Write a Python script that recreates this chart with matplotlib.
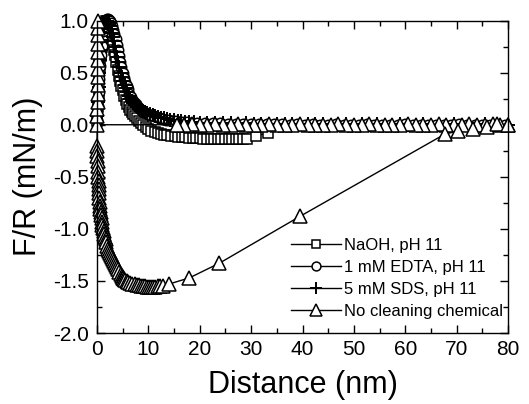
import matplotlib
matplotlib.use("Agg")
import matplotlib.pyplot as plt
from matplotlib.ticker import MultipleLocator, FormatStrFormatter

plt.rcParams['font.family'] = ['Liberation Sans', 'DejaVu Sans']

# ---------------- data ----------------
# NaOH, pH 11 (squares)
x_naoh = [0.0, 0.15, 0.3, 0.45, 0.6, 0.75, 0.9, 1.05, 1.2, 1.35, 1.5, 1.7, 1.9, 2.1, 2.3, 2.5,
          2.7, 2.9, 3.1, 3.3, 3.5, 3.75, 4.0, 4.25, 4.5, 4.75, 5.0, 5.3, 5.6, 5.9, 6.2, 6.5,
          6.8, 7.1, 7.4, 7.8, 8.2, 8.6, 9.0, 9.5, 10.0, 10.6, 11.2, 11.8, 12.4, 13.0, 13.7,
          14.4, 15.1, 15.8, 16.5, 17.2, 17.9, 18.6, 19.3, 20.0, 20.7, 21.4, 22.1, 22.8, 23.5,
          24.2, 24.9, 25.6, 26.3, 27.0, 27.7, 28.4, 29.1, 31.0, 33.2]
y_naoh = [0.04, 0.17, 0.30, 0.43, 0.55, 0.66, 0.75, 0.83, 0.90, 0.95, 0.98, 1.00, 1.00, 0.98,
          0.95, 0.91, 0.87, 0.83, 0.78, 0.72, 0.67, 0.60, 0.53, 0.47, 0.42, 0.37, 0.33, 0.28,
          0.24, 0.20, 0.17, 0.14, 0.12, 0.10, 0.08, 0.06, 0.04, 0.02, 0.00, -0.02, -0.04,
          -0.06, -0.07, -0.08, -0.09, -0.095, -0.10, -0.105, -0.11, -0.115, -0.12, -0.12,
          -0.125, -0.13, -0.13, -0.13, -0.135, -0.135, -0.135, -0.14, -0.14, -0.14, -0.14,
          -0.14, -0.14, -0.14, -0.14, -0.14, -0.135, -0.105, -0.08]

# 1 mM EDTA, pH 11 (circles)
x_edta_near = [0.0, 0.15, 0.3, 0.45, 0.6, 0.75, 0.9, 1.05, 1.2, 1.35, 1.5, 1.65, 1.8, 2.0,
               2.2, 2.4, 2.6, 2.8, 3.0, 3.2, 3.4, 3.6, 3.8, 4.0, 4.25, 4.5, 4.75, 5.0, 5.25,
               5.5, 5.75, 6.0, 6.3, 6.6, 6.9, 7.2, 7.5, 7.8, 8.2, 8.6, 9.0, 9.5, 10.0, 10.5,
               11.0, 11.6, 12.2, 12.8, 13.4, 14.0, 14.7, 15.4, 16.1, 16.8, 17.6, 18.4]
y_edta_near = [0.05, 0.18, 0.31, 0.44, 0.56, 0.67, 0.76, 0.84, 0.90, 0.95, 0.98, 1.00, 1.01,
               1.02, 1.02, 1.01, 1.00, 0.98, 0.95, 0.91, 0.87, 0.82, 0.77, 0.72, 0.66, 0.60,
               0.55, 0.50, 0.45, 0.41, 0.37, 0.34, 0.30, 0.27, 0.24, 0.22, 0.20, 0.18, 0.16,
               0.14, 0.12, 0.11, 0.10, 0.09, 0.08, 0.07, 0.06, 0.055, 0.05, 0.045, 0.04,
               0.035, 0.03, 0.03, 0.025, 0.02]
x_edta_far = [19.5, 21.0, 22.5, 24.0, 25.5, 27.0, 28.5, 30.0, 31.5, 33.0, 34.5, 36.0, 37.5,
              39.0, 40.5, 42.0, 43.5, 45.0, 46.5, 48.0, 49.5, 51.0, 52.5, 54.0, 55.5, 57.0,
              58.5, 60.0, 61.5, 63.0, 64.5, 66.0, 67.5, 69.0, 70.5, 72.0, 73.5, 75.0, 76.5,
              78.0, 79.5]
y_edta_far = [0.02, 0.02, 0.015, 0.015, 0.01, 0.01, 0.01, 0.01, 0.005, 0.01, 0.005, 0.005,
              0.0, 0.005, 0.0, 0.005, 0.0, 0.0, 0.005, 0.0, 0.0, 0.0, 0.005, 0.0, 0.0, 0.0,
              0.0, 0.005, 0.0, 0.0, 0.0, 0.0, 0.0, 0.0, 0.005, 0.0, 0.0, 0.0, 0.0, 0.0, 0.0]

# 5 mM SDS, pH 11 (pluses)
x_sds_near = [0.0, 0.15, 0.3, 0.45, 0.6, 0.75, 0.9, 1.05, 1.2, 1.35, 1.5, 1.7, 1.9, 2.1, 2.3,
              2.5, 2.7, 2.9, 3.1, 3.3, 3.5, 3.7, 3.9, 4.1, 4.35, 4.6, 4.85, 5.1, 5.35, 5.6,
              5.9, 6.2, 6.5, 6.8, 7.1, 7.4, 7.7, 8.1, 8.5, 8.9, 9.3, 9.8, 10.3, 10.8, 11.3,
              11.9, 12.5, 13.1, 13.7, 14.3, 15.0, 15.7, 16.4, 17.2, 18.0, 18.8]
y_sds_near = [0.08, 0.22, 0.36, 0.50, 0.62, 0.72, 0.81, 0.88, 0.93, 0.97, 0.99, 1.00, 1.00,
              0.99, 0.97, 0.95, 0.92, 0.88, 0.84, 0.80, 0.75, 0.70, 0.65, 0.60, 0.55, 0.50,
              0.46, 0.42, 0.38, 0.35, 0.31, 0.28, 0.25, 0.23, 0.21, 0.19, 0.17, 0.15, 0.14,
              0.13, 0.12, 0.11, 0.10, 0.09, 0.08, 0.07, 0.065, 0.06, 0.055, 0.05, 0.045,
              0.04, 0.035, 0.03, 0.03, 0.025]
x_sds_far = [20.0, 21.5, 23.0, 24.5, 26.0, 27.5, 29.0, 30.5, 32.0, 33.5, 35.0, 36.5, 38.0,
             39.5, 41.0, 42.5, 44.0, 45.5, 47.0, 48.5, 50.0, 51.5, 53.0, 54.5, 56.0, 57.5,
             59.0, 60.5, 62.0, 63.5, 65.0, 66.5, 68.0, 69.5, 71.0, 72.5, 74.0, 75.5, 77.0,
             78.5, 80.0]
y_sds_far = [0.02, 0.02, 0.02, 0.015, 0.015, 0.01, 0.015, 0.01, 0.01, 0.01, 0.005, 0.01,
             0.005, 0.005, 0.01, 0.005, 0.005, 0.0, 0.005, 0.005, 0.0, 0.005, 0.0, 0.005, 0.0,
             0.0, 0.005, 0.0, 0.0, 0.005, 0.0, 0.0, 0.0, 0.005, 0.0, 0.0, 0.0, 0.005, 0.0,
             0.0, 0.0]

# No cleaning chemical (triangles): approach, contact, retraction
x_none_app = [80.0, 78.5, 77.0, 75.5, 74.0, 72.5, 71.0, 69.5, 68.0, 66.5, 65.0, 63.5, 62.0,
              60.5, 59.0, 57.5, 56.0, 54.5, 53.0, 51.5, 50.0, 48.5, 47.0, 45.5, 44.0, 42.5,
              41.0, 39.5, 38.0, 36.5, 35.0, 33.5, 32.0, 30.5, 29.0, 27.5, 26.0, 24.5, 23.0,
              21.5, 20.0, 18.5, 17.0, 15.5]
y_none_app = [0.0, 0.0, 0.005, 0.0, 0.0, 0.005, 0.0, 0.0, 0.0, 0.005, 0.0, 0.0, 0.0, 0.005,
              0.0, 0.0, 0.0, 0.0, 0.005, 0.0, 0.0, 0.0, 0.005, 0.0, 0.0, 0.0, 0.0, 0.005, 0.0,
              0.0, 0.0, 0.005, 0.0, 0.0, 0.0, 0.005, 0.0, 0.0, 0.005, 0.0, 0.0, 0.005, 0.0,
              0.0]
x_none_contact = [0.0, 0.05, 0.08, 0.1, 0.12, 0.14, 0.16, 0.18, 0.2, 0.22, 0.23, 0.24, 0.25,
                  0.25]
y_none_contact = [0.0, 0.08, 0.15, 0.22, 0.30, 0.38, 0.46, 0.54, 0.62, 0.70, 0.78, 0.86,
                  0.93, 1.00]
x_none_ret = [0.0, 0.04, 0.08, 0.12, 0.17, 0.22, 0.27, 0.31, 0.35, 0.39, 0.43, 0.48, 0.53,
              0.6, 0.66, 0.73, 0.8, 0.88, 0.96, 1.05, 1.15, 1.27, 1.4, 1.55, 1.66, 1.83, 2.0,
              2.2, 2.35, 2.5, 2.7, 2.9, 3.1, 3.3, 3.5, 3.7, 3.9, 4.1, 4.35, 4.6, 4.85, 5.0,
              5.15, 5.3, 5.5, 5.8, 6.1, 6.5, 6.9, 7.3, 7.7, 8.1, 8.5, 8.9, 9.3, 9.7, 10.1,
              10.5, 10.9, 11.3, 11.8, 12.3, 12.9, 14.0,
              18.0, 23.8, 39.5, 67.7, 70.3, 73.2, 76.0, 77.8, 80.0]
y_none_ret = [-0.20, -0.25, -0.30, -0.35, -0.40, -0.45, -0.50, -0.54, -0.58, -0.62, -0.66,
              -0.70, -0.74, -0.78, -0.81, -0.84, -0.87, -0.90, -0.93, -0.96, -0.99, -1.02,
              -1.05, -1.08, -1.10, -1.13, -1.16, -1.19, -1.21, -1.23, -1.25, -1.27, -1.29,
              -1.31, -1.33, -1.35, -1.37, -1.39, -1.41, -1.43, -1.45, -1.46, -1.47, -1.48,
              -1.49, -1.50, -1.51, -1.52, -1.53, -1.53, -1.54, -1.54, -1.55, -1.55, -1.55,
              -1.56, -1.56, -1.56, -1.56, -1.56, -1.55, -1.55, -1.55, -1.53,
              -1.47, -1.33, -0.88, -0.09, -0.06, -0.04, -0.02, 0.01, 0.0]

labels = ["NaOH, pH 11", "1 mM EDTA, pH 11", "5 mM SDS, pH 11", "No cleaning chemical"]

x_edta = x_edta_near + x_edta_far
y_edta = y_edta_near + y_edta_far
x_sds = x_sds_near + x_sds_far
y_sds = y_sds_near + y_sds_far
x_none = x_none_app + x_none_contact + x_none_ret
y_none = y_none_app + y_none_contact + y_none_ret

# ---------------- figure ----------------
fig = plt.figure(figsize=(5.29, 4.04), dpi=100)
ax = fig.add_axes([0.1834, 0.1757, 0.9603 - 0.1834, 0.9490 - 0.1757])

lw = 1.0
common = dict(color='black', lw=lw, mec='black', clip_on=False)
ax.plot(x_naoh, y_naoh, marker='s', ms=7, mfc='white', mew=1.1, label=labels[0], **common)
ax.plot(x_edta, y_edta, marker='o', ms=7.5, mfc='white', mew=1.1, label=labels[1], **common)
ax.plot(x_sds, y_sds, marker='+', ms=9.5, mew=1.4, label=labels[2], **common)
ax.plot(x_none, y_none, marker='^', ms=10, mfc='white', mew=1.1, label=labels[3], **common)

ax.set_xlim(0, 80)
ax.set_ylim(-2.0, 1.0)
ax.xaxis.set_major_locator(MultipleLocator(10))
ax.xaxis.set_minor_locator(MultipleLocator(5))
ax.yaxis.set_major_locator(MultipleLocator(0.5))
ax.yaxis.set_minor_locator(MultipleLocator(0.25))
ax.yaxis.set_major_formatter(FormatStrFormatter('%.1f'))
ax.tick_params(which='both', direction='in', top=True, right=True, width=1.0,
               labelsize=15)
ax.tick_params(axis='x', pad=5)
ax.tick_params(axis='y', pad=6)
ax.tick_params(which='major', length=6)
ax.tick_params(which='minor', length=3.5)
for s in ax.spines.values():
    s.set_linewidth(1.0)

ax.set_xlabel("Distance (nm)", fontsize=22, labelpad=8)
ax.set_ylabel("F/R (mN/m)", fontsize=22, labelpad=7)

ax.legend(loc='lower right', bbox_to_anchor=(0.995, 0.035), frameon=False, fontsize=12,
          handlelength=3.0, handletextpad=0.15, labelspacing=0.42, borderaxespad=0.0,
          borderpad=0.2, markerscale=0.85)

fig.savefig("out.png", dpi=100)
